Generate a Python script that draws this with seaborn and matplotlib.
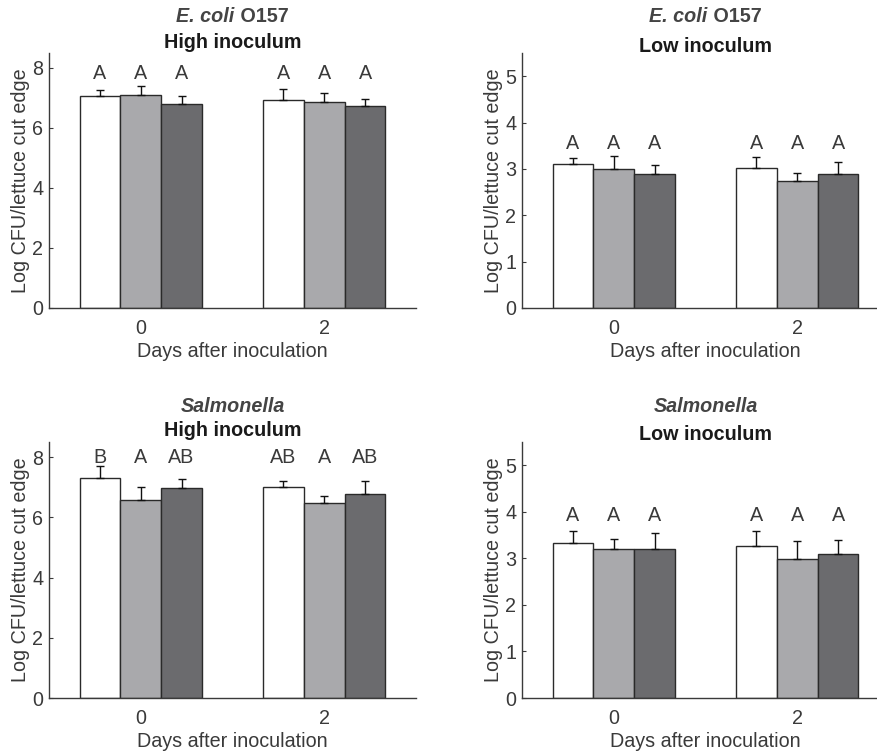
import numpy as np
import pandas as pd
import matplotlib
matplotlib.use("Agg")
import matplotlib.pyplot as plt
import seaborn as sns

sns.set_style("ticks")
plt.rcParams['font.family'] = ['Liberation Sans', 'DejaVu Sans']

days = ["0", "2"]
treatments = ["T1", "T2", "T3"]
colors = ["#ffffff", "#a8a9ac", "#6a6b6f"]

# means per treatment, for day 0 and day 2
ecoli_high = [[7.05, 6.93], [7.10, 6.88], [6.81, 6.72]]
ecoli_high_err = [[0.22, 0.37], [0.30, 0.28], [0.27, 0.25]]
ecoli_high_letters = [["A", "A"], ["A", "A"], ["A", "A"]]

ecoli_low = [[3.10, 3.03], [3.00, 2.73], [2.90, 2.88]]
ecoli_low_err = [[0.14, 0.22], [0.28, 0.18], [0.19, 0.26]]
ecoli_low_letters = [["A", "A"], ["A", "A"], ["A", "A"]]

salm_high = [[7.31, 7.01], [6.57, 6.49], [6.96, 6.79]]
salm_high_err = [[0.38, 0.21], [0.43, 0.23], [0.30, 0.43]]
salm_high_letters = [["B", "AB"], ["A", "A"], ["AB", "AB"]]

salm_low = [[3.34, 3.27], [3.20, 2.99], [3.21, 3.10]]
salm_low_err = [[0.25, 0.32], [0.21, 0.38], [0.33, 0.30]]
salm_low_letters = [["A", "A"], ["A", "A"], ["A", "A"]]

FS = 14.2
W, H = 877, 752
fig = plt.figure(figsize=(W / 100, H / 100), dpi=100)

panels = [
    # values, errors, letters, letter y, ylim, yticks, organism, rest, sub, box(px), title y's
    (ecoli_high, ecoli_high_err, ecoli_high_letters, 7.8, 8.5, [0, 2, 4, 6, 8],
     "E. coli", " O157", "High inoculum", (49, 53, 367, 255), 17, 43),
    (ecoli_low, ecoli_low_err, ecoli_low_letters, 3.55, 5.5, [0, 1, 2, 3, 4, 5],
     "E. coli", " O157", "Low inoculum", (522, 53, 367, 255), 17, 47),
    (salm_high, salm_high_err, salm_high_letters, 8.0, 8.5, [0, 2, 4, 6, 8],
     "Salmonella", "", "High inoculum", (49, 442, 367, 256), 407, 431),
    (salm_low, salm_low_err, salm_low_letters, 3.93, 5.5, [0, 1, 2, 3, 4, 5],
     "Salmonella", "", "Low inoculum", (522, 442, 367, 256), 407, 434),
]

renderer = fig.canvas.get_renderer()

for vals, errs, letters, ly, ytop, yticks, ital, rest, sub, box, t1y, t2y in panels:
    left, top, w, h = box
    ax = fig.add_axes([left / W, (H - top - h) / H, w / W, h / H])
    df = pd.DataFrame({
        "day": np.tile(days, len(treatments)),
        "treat": np.repeat(treatments, len(days)),
        "value": np.ravel(vals),
    })
    sns.barplot(data=df, x="day", y="value", hue="treat", order=days,
                hue_order=treatments, palette=colors, width=2 / 3,
                edgecolor="#2a2a2a", linewidth=1.0, legend=False, ax=ax)
    bar_groups = list(ax.containers)
    for i, cont in enumerate(bar_groups):
        xs = [b.get_x() + b.get_width() / 2 for b in cont]
        hs = [b.get_height() for b in cont]
        ax.errorbar(xs, hs, yerr=[np.zeros(len(hs)), errs[i]], fmt="none",
                    ecolor="#111111", elinewidth=1.0, capsize=3, capthick=1.0)
        for x, lab in zip(xs, letters[i]):
            ax.text(x, ly, lab, ha="center", va="center", fontsize=FS,
                    color="#3a3a3a")
    ax.set_xlim(-0.5, 1.5)
    ax.set_ylim(0, ytop)
    ax.set_yticks(yticks)
    ax.set_xlabel("Days after inoculation", fontsize=FS, color="#3a3a3a", labelpad=3)
    ax.set_ylabel("Log CFU/lettuce cut edge", fontsize=FS, color="#3a3a3a", labelpad=2)
    ax.tick_params(axis="y", direction="in", length=3, labelsize=FS,
                   colors="#3a3a3a", pad=4)
    ax.tick_params(axis="x", length=0, labelsize=FS, colors="#3a3a3a", pad=8)
    for s in ["top", "right"]:
        ax.spines[s].set_visible(False)
    for s in ["left", "bottom"]:
        ax.spines[s].set_color("#3a3a3a")
        ax.spines[s].set_linewidth(1.0)

    # two-line title: italic organism name, then inoculum level
    cx = (left + w / 2) / W
    y1 = (H - t1y) / H
    y2 = (H - t2y) / H
    t_a = fig.text(0, y1, ital, fontsize=FS, fontweight="bold", style="italic",
                   color="#444444", va="center")
    t_b = fig.text(0, y1, rest, fontsize=FS, fontweight="bold",
                   color="#444444", va="center")
    wa = t_a.get_window_extent(renderer).width / W
    wb = t_b.get_window_extent(renderer).width / W if rest else 0
    x0 = cx - (wa + wb) / 2
    t_a.set_x(x0)
    t_b.set_x(x0 + wa)
    fig.text(cx, y2, sub, fontsize=FS, fontweight="bold", color="#1a1a1a",
             ha="center", va="center")

fig.savefig("out.png", dpi=100)
